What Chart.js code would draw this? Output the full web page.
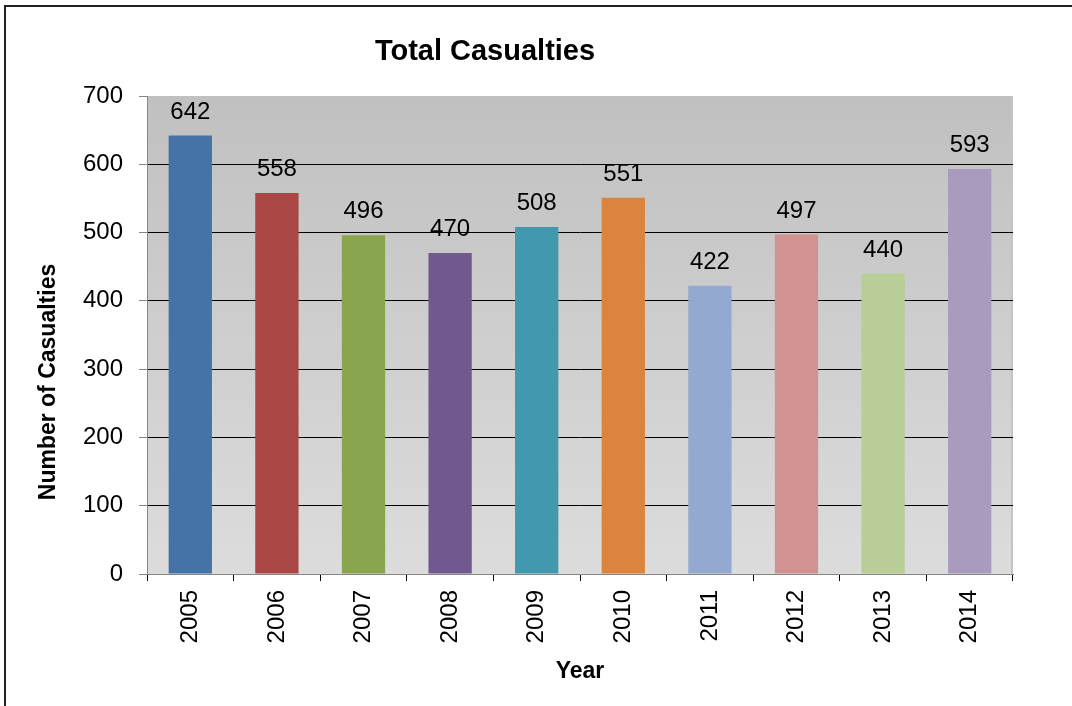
<!DOCTYPE html>
<html>
<head>
<meta charset="utf-8">
<title>Total Casualties</title>
<script src="https://cdn.jsdelivr.net/npm/chart.js@4"></script>
<style>
  html, body { margin: 0; padding: 0; background: #ffffff; }
  canvas { display: block; }
</style>
</head>
<body>
<canvas id="casualtiesChart" width="1072" height="706"></canvas>
<script>
  // Yearly totals
  const years = ['2005', '2006', '2007', '2008', '2009', '2010', '2011', '2012', '2013', '2014'];
  const casualties = [642, 558, 496, 470, 508, 551, 422, 497, 440, 593];
  const barColors = ['#4572A7', '#AA4643', '#89A54E', '#71588F', '#4198AF',
                     '#DB843D', '#93A9CF', '#D19392', '#B9CD96', '#A99BBD'];
  const yTicks = [0, 100, 200, 300, 400, 500, 600, 700];

  const chartTitle = 'Total Casualties';
  const yTitle = 'Number of Casualties';
  const xTitle = 'Year';

  const FONT = '"Liberation Sans", Arial, sans-serif';

  // Frame lines, gray gradient behind the bars and the light right edge of the plot
  const plotBackground = {
    id: 'plotBackground',
    beforeDraw(chart) {
      const { ctx, chartArea } = chart;
      ctx.save();
      ctx.strokeStyle = '#222222';
      ctx.lineWidth = 2;
      ctx.beginPath();
      ctx.moveTo(5, 706);
      ctx.lineTo(5, 6);
      ctx.lineTo(1072, 6);
      ctx.stroke();

      const grad = ctx.createLinearGradient(0, chartArea.top, 0, chartArea.bottom);
      grad.addColorStop(0, '#c0c0c0');
      grad.addColorStop(1, '#dcdcdc');
      ctx.fillStyle = grad;
      ctx.fillRect(chartArea.left, chartArea.top, chartArea.right - chartArea.left, chartArea.bottom - chartArea.top);

      ctx.strokeStyle = '#c4c4c4';
      ctx.lineWidth = 2;
      ctx.beginPath();
      ctx.moveTo(chartArea.right - 1, chartArea.top);
      ctx.lineTo(chartArea.right - 1, chartArea.bottom);
      ctx.stroke();
      ctx.restore();
    }
  };

  // Value above each bar, plus the chart title and the rotated y title
  const textLayer = {
    id: 'textLayer',
    afterDatasetsDraw(chart) {
      const { ctx } = chart;
      const meta = chart.getDatasetMeta(0);
      ctx.save();
      ctx.fillStyle = '#000000';
      ctx.font = '24px ' + FONT;
      ctx.textAlign = 'center';
      ctx.textBaseline = 'alphabetic';
      meta.data.forEach((bar, i) => {
        ctx.fillText(String(casualties[i]), bar.x, bar.y - 17);
      });

      ctx.font = 'bold 29px ' + FONT;
      ctx.fillText(chartTitle, 485, 60);

      ctx.font = 'bold 23px ' + FONT;
      ctx.translate(55, 382);
      ctx.rotate(-Math.PI / 2);
      ctx.fillText(yTitle, 0, 0);
      ctx.restore();
    }
  };

  new Chart(document.getElementById('casualtiesChart'), {
    type: 'bar',
    data: {
      labels: years,
      datasets: [{
        data: casualties,
        backgroundColor: barColors,
        borderWidth: 0,
        barPercentage: 0.5,
        categoryPercentage: 1.0
      }]
    },
    options: {
      responsive: false,
      animation: false,
      devicePixelRatio: 1,
      layout: { padding: { left: 0, top: 96, right: 59, bottom: 0 } },
      plugins: {
        legend: { display: false },
        title: { display: false },
        tooltip: { enabled: false }
      },
      scales: {
        x: {
          afterFit(scale) { scale.height = 132; },
          grid: {
            offset: true,
            drawOnChartArea: false,
            tickLength: 7,
            tickColor: '#000000'
          },
          border: { color: '#868686', width: 1 },
          ticks: {
            minRotation: 90,
            maxRotation: 90,
            padding: 9,
            color: '#000000',
            font: { family: FONT, size: 24 }
          },
          title: {
            display: true,
            text: xTitle,
            color: '#000000',
            font: { family: FONT, size: 23, weight: 'bold' },
            padding: { top: 0, bottom: 21 }
          }
        },
        y: {
          min: yTicks[0],
          max: yTicks[yTicks.length - 1],
          afterFit(scale) { scale.width = 147; },
          afterBuildTicks(scale) { scale.ticks = yTicks.map(v => ({ value: v })); },
          grid: {
            color: ctx => (ctx.tick && (ctx.tick.value === 0 || ctx.tick.value === 700)) ? 'rgba(0,0,0,0)' : '#000000',
            tickColor: '#868686',
            tickLength: 8,
            lineWidth: 1
          },
          border: { color: '#868686', width: 1 },
          ticks: {
            padding: 16,
            color: '#000000',
            font: { family: FONT, size: 24 }
          }
        }
      }
    },
    plugins: [plotBackground, textLayer]
  });
</script>
</body>
</html>
